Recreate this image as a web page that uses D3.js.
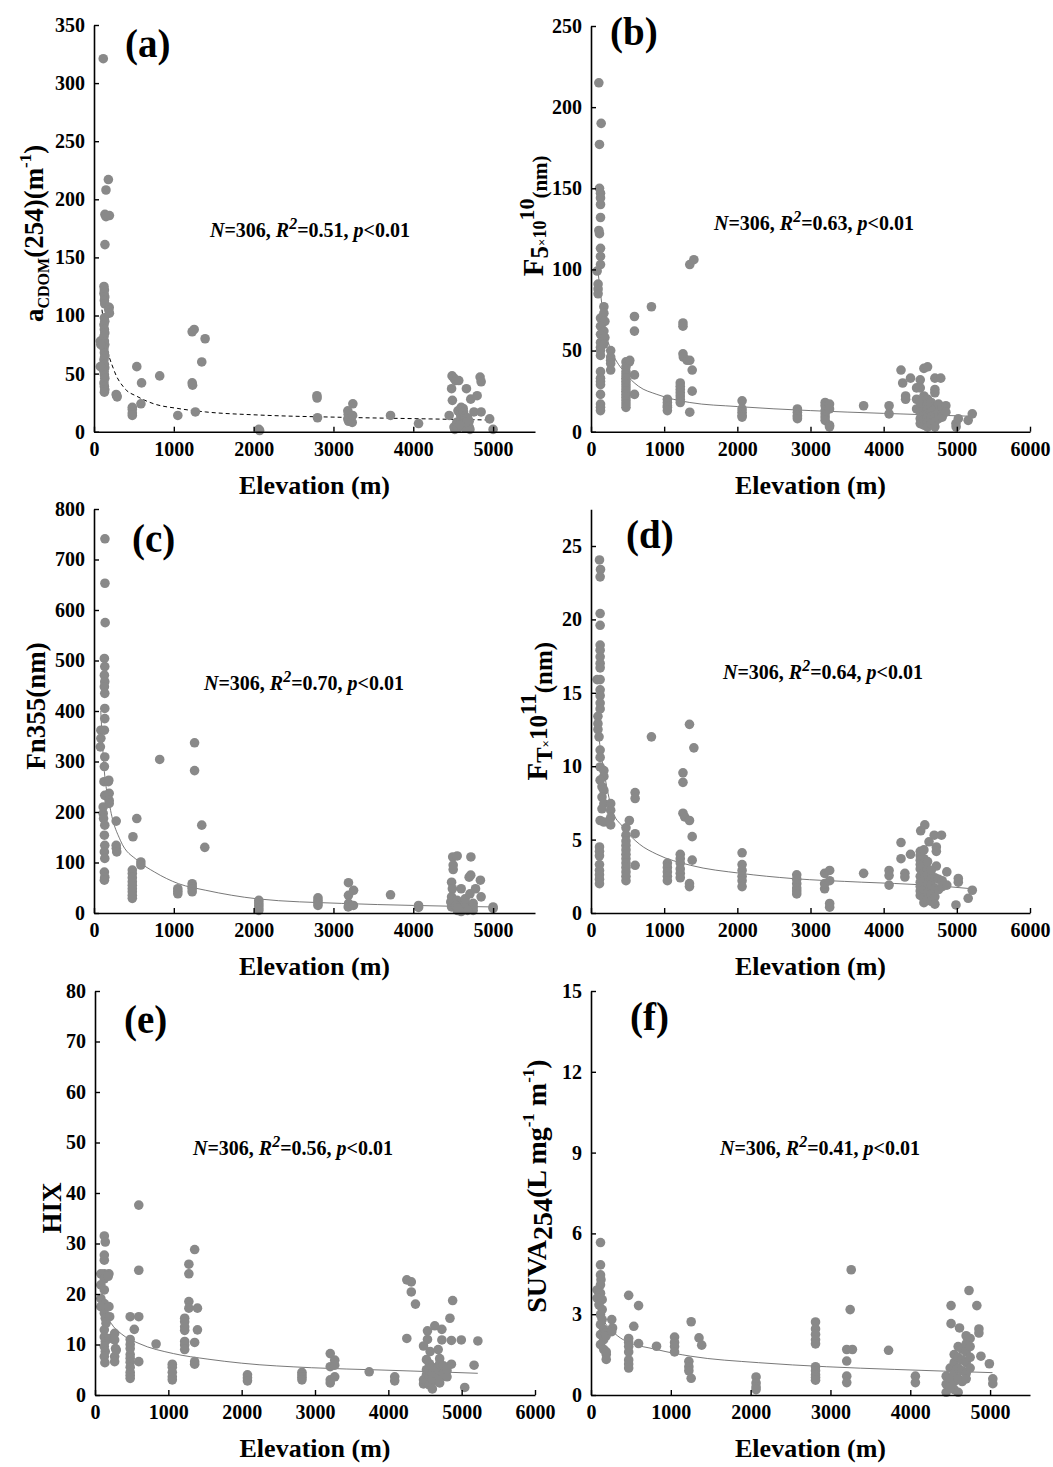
<!DOCTYPE html>
<html><head><meta charset="utf-8">
<script src="https://cdn.jsdelivr.net/npm/d3@7/dist/d3.min.js"></script>
<style>
body{margin:0;background:#fff}
svg text{font-family:"Liberation Serif","Times New Roman",serif;font-weight:bold;fill:#000}
</style></head>
<body><svg id="chart" width="1053" height="1467"></svg>
<script>
// ---------------- DATA (elevation m, value) ----------------
const elevTicks5 = [0,1000,2000,3000,4000,5000];
const elevTicks6 = [0,1000,2000,3000,4000,5000,6000];
const ticksA = [0,50,100,150,200,250,300,350];
const ticksB = [0,50,100,150,200,250];
const ticksC = [0,100,200,300,400,500,600,700,800];
const ticksD = [0,5,10,15,20,25];
const ticksE = [0,10,20,30,40,50,60,70,80];
const ticksF = [0,3,6,9,12,15];

const pointsA = [[116,321],[180,217],[150,208],[137,187],[193,186],[150,185],[137,161],
[125,125],[130,122],[125,119],[135,116],[130,113],[135,110],[190,107],[185,105],[193,102],[130,98],[135,95],[125,92],[130,88],[135,85],[125,82],[130,78],[135,75],[125,72],[130,68],[135,65],[125,62],[130,58],[135,55],[125,52],[130,49],[135,46],[125,42],[130,39],[135,36],[130,34],
[80,78],[85,75],[80,56],[278,32],[290,30],[285,31],
[480,21],[480,19],[480,16],[480,14],[536,56],[596,42],[588,24],[823,48],[1050,14],
[1230,86],[1255,88],[1230,42],[1235,40],[1270,17],[1392,80],[1350,60],
[2065,2],[2075,1],[2793,31],[2795,29],[2800,12],[3180,18],[3185,15],[3180,11],[3190,9],[3243,24],[3235,8],[3240,14],[3715,14],[4066,7],
[4486,48],[4510,46],[4530,44],[4480,37],[4490,27],[4450,14],[4510,4],[4520,2],[4550,5],[4555,3],[4545,8],[4560,18],[4600,21],[4605,19],[4600,16],[4595,14],[4600,12],[4610,10],[4620,15],[4625,20],[4630,17],[4640,13],[4645,11],[4640,6],[4650,3],[4666,37],[4720,28],[4800,31],[4700,4],[4710,2],[4700,9],[4760,17],[4850,17],[4837,47],[4850,43],[4957,11],[5000,2],[4680,12],[4570,44],[4660,8],[4580,6]];

const pointsB = [[107,215],[139,190],[116,177],[116,150],[130,147],[130,144],[130,140],[130,132],[107,124],[116,122],[130,113],[130,108],[130,103],[84,99],[97,91],[97,88],[97,85],[176,77],[176,73],[130,70],[190,68],[130,65],[176,62],[130,60],[190,58],[130,55],[176,54],[130,52],[130,50],[130,47],[130,37],[130,33],[130,31],[130,29],[130,23],[130,17],[130,15],[130,13],
[269,50],[269,46],[269,44],[269,42],[269,38],
[478,43],[478,40],[478,37],[478,35],[478,33],[478,31],[478,29],[478,27],[478,25],[478,23],[478,21],[478,19],[478,17],[478,15],[524,43],[530,44],
[594,71],[594,62],[594,35],[594,23],[826,77],
[1044,20],[1044,18],[1044,16],[1044,15],[1044,13],
[1220,30],[1220,28],[1220,26],[1220,24],[1220,22],[1220,20],[1220,18],[1257,67],[1257,65],[1257,48],[1262,46],[1313,44],
[1350,103],[1406,106],[1350,44],[1383,38],[1383,25],[1350,12],
[2065,19],[2065,14],[2065,12],[2065,10],[2065,9],
[2821,14],[2821,12],[2821,10],[2821,9],[2821,8],
[3200,18],[3200,16],[3200,13],[3200,11],[3200,9],[3200,7],[3260,17],[3260,14],[3260,4],[3260,3],
[3726,16],[4074,16],[4074,11],[4237,38],[4260,30],[4300,22],[4300,20],[4367,33],
[4450,27],[4450,20],[4450,14],[4500,32],[4500,27],[4500,18],[4500,12],[4500,8],[4500,5],[4550,39],[4550,22],[4550,16],[4550,13],[4550,10],[4550,7],[4550,4],[4600,40],[4600,20],[4600,17],[4600,14],[4600,11],[4600,9],[4600,6],[4600,3],[4650,18],[4650,15],[4650,12],[4650,9],[4650,7],[4650,5],[4700,33],[4700,26],[4700,24],[4700,14],[4700,10],[4700,6],[4700,3],[4750,17],[4750,12],[4750,8],[4780,33],[4800,15],[4800,11],[4800,9],[4850,16],[4850,12],
[4988,5],[4990,3],[5020,8],[5155,7],[5211,11]];

const pointsC = [[137,741],[137,653],[140,575],[130,504],[135,488],[130,471],[135,458],[130,448],[135,435],[135,405],[135,385],[86,362],[86,346],[80,329],[130,362],[135,309],[130,290],[125,260],[180,260],[185,263],[135,233],[190,237],[190,223],[190,217],[115,210],[115,197],[120,187],[135,174],[130,154],[135,134],[130,121],[135,108],[130,81],[135,71],[130,65],
[278,182],[278,134],[280,128],[285,121],[488,151],[536,187],
[480,85],[480,78],[480,70],[480,62],[480,55],[480,48],[480,42],[480,35],[480,29],[587,101],[587,95],[823,304],
[1050,48],[1050,43],[1050,38],[1230,58],[1230,52],[1230,48],[1230,42],[1260,337],[1260,282],[1350,174],[1388,130],
[2065,25],[2065,20],[2065,15],[2065,10],[2065,5],[2806,30],[2806,25],[2806,20],[2806,15],
[3188,60],[3188,35],[3190,19],[3185,12],[3252,45],[3250,15],[3715,36],[4066,15],[4066,11],
[4494,111],[4500,95],[4500,86],[4550,113],[4480,61],[4490,48],[4480,32],[4470,22],[4480,12],[4550,5],[4550,25],[4600,19],[4600,48],[4600,15],[4600,8],[4600,3],[4650,22],[4650,12],[4650,28],[4722,111],[4700,71],[4720,75],[4710,38],[4750,19],[4750,12],[4750,5],[4780,48],[4841,65],[4850,32],[5000,12],[5000,9],[4530,15],[4560,10],[4680,5]];

const pointsD = [[116,24.05],[130,23.4],[125,22.9],[125,20.4],[125,19.6],[125,18.25],[125,17.9],[125,17.45],[125,17],[125,16.7],[84,15.9],[125,15.9],[125,15.2],[125,14.8],[125,14.3],[125,13.9],[95,13.4],[95,12.9],[95,12.5],[110,12],[125,11.1],[125,10.6],[125,9.95],[176,9.7],[176,9.3],[125,9.05],[150,8.6],[176,8.35],[150,7.9],[176,7.45],[150,7.1],[125,6.3],[176,6.2],[116,4.5],[116,4.2],[116,3.9],[116,3.3],[116,2.9],[116,2.6],[116,2.3],[116,2.0],
[269,7.45],[269,7],[269,6.5],[269,6],
[478,5.8],[478,5.3],[478,4.9],[478,4.6],[478,4.3],[478,4.0],[478,3.7],[478,3.4],[478,3.1],[478,2.8],[478,2.5],[478,2.2],[524,6.3],
[603,8.2],[603,7.8],[603,5.4],[603,3.25],[826,12],
[1044,3.4],[1044,3.1],[1044,2.8],[1044,2.5],[1044,2.2],
[1220,4.0],[1220,3.7],[1220,3.4],[1220,3.0],[1220,2.7],[1220,2.4],[1257,9.55],[1257,8.9],[1257,6.8],[1280,6.55],
[1346,12.85],[1406,11.25],[1346,6.3],[1346,1.8],[1346,2.0],[1383,5.2],[1383,3.6],
[2065,4.1],[2065,3.3],[2065,2.9],[2065,2.5],[2065,2.2],[2065,1.8],
[2812,2.6],[2812,2.3],[2812,2.0],[2812,1.7],[2812,1.5],[2812,1.3],
[3193,1.65],[3193,2.7],[3193,2.0],[3262,2.9],[3262,2.2],[3262,0.65],[3262,0.4],
[3726,2.7],[4074,2.9],[4074,2.55],[4074,1.9],[4237,4.8],[4237,3.7],[4290,2.7],[4290,2.45],[4367,4.0],
[4506,5.6],[4562,6],[4620,4.85],[4691,5.3],[4790,5.3],[4720,4.5],[4720,4.2],[4720,3.2],
[4500,4.2],[4500,3.9],[4500,3.6],[4500,3.3],[4500,3.0],[4500,2.5],[4500,2.1],[4500,1.8],[4500,1.5],[4500,1.2],
[4550,4.3],[4550,3.7],[4550,3.4],[4550,2.8],[4550,2.2],[4550,1.6],[4550,1.0],[4550,0.7],
[4600,3.5],[4600,3.0],[4600,2.6],[4600,2.0],[4600,1.4],[4600,0.9],
[4650,2.9],[4650,2.3],[4650,1.9],[4650,1.3],[4650,0.8],
[4700,2.4],[4700,1.7],[4700,1.1],[4700,0.6],[4750,2.3],[4750,1.6],[4800,2.2],[4800,1.8],[4863,2.8],[4863,1.9],
[4988,0.55],[5020,2.35],[5020,2.1],[5155,1.0],[5211,1.55]];

const pointsE = [[127,31.5],[140,30.3],[127,27.7],[127,26.7],[127,24],[80,24],[127,23],[80,21.8],[127,20.8],[80,19.1],[127,18.1],[80,17.5],[127,16.2],[140,15.2],[150,14.2],[127,12.9],[127,11.5],[140,10.6],[127,9.6],[140,8.6],[127,7.6],[135,6.4],[190,17.5],[190,24],[200,15.5],[200,11.2],[180,23.5],
[268,12.2],[268,10.9],[280,9.2],[268,7.6],[268,6.6],[290,8.9],
[480,15.5],[480,11],[480,10],[480,9.2],[480,8],[480,7.3],[480,6.5],[480,5.5],[480,4.5],[480,3.9],[480,3.3],
[536,13],[597,37.6],[597,24.7],[597,15.5],[597,6.6],[833,10.1],
[1054,6.1],[1054,5.5],[1054,4.5],[1054,3.6],[1054,3],
[1223,15.2],[1223,14.5],[1223,13.5],[1223,12.8],[1223,10.6],[1223,9.9],[1223,9],[1280,25.9],[1280,24],[1280,18.5],[1280,17.2],
[1359,28.8],[1359,10.4],[1359,6.6],[1359,6.1],[1397,17.2],[1397,12.9],
[2079,4],[2079,3.4],[2079,2.8],[2822,4.5],[2822,4],[2822,3.5],[2822,3],
[3208,8.2],[3208,5.6],[3208,3],[3208,2.4],[3269,6.9],[3269,5.9],[3269,3.6],
[3739,4.6],[4087,3.6],[4087,2.8],
[4252,22.8],[4313,22.4],[4313,20.4],[4370,18],[4252,11.2],
[4534,12.7],[4534,11],[4480,9.7],[4570,8.6],[4633,13.7],[4730,13],[4730,10.9],[4680,9],[4840,15.2],[4877,18.7],[4860,10.8],[4860,6.1],
[4480,3],[4480,2.2],[4520,7],[4520,5],[4520,4],[4520,3.3],[4520,2.6],[4560,6.2],[4560,4.8],[4560,3.6],[4560,2.0],[4600,5.5],[4600,4.2],[4600,3.1],[4600,1.2],[4650,5.1],[4650,4],[4650,2.8],[4700,7.2],[4700,6.2],[4700,4.5],[4700,3.3],[4700,2.4],[4750,5.8],[4750,4.2],[4800,4.8],[4800,3.6],
[4995,10.9],[5042,1.5],[5169,5.9],[5221,10.7]];

const pointsF = [[119,5.66],[119,4.83],[119,4.46],[125,4.28],[119,4.09],[77,3.9],[119,3.78],[77,3.6],[140,3.54],[100,3.35],[140,3.17],[119,2.98],[140,2.8],[119,2.61],[160,2.43],[119,2.24],[160,2.06],[119,1.87],[160,1.69],[191,1.5],[191,1.32],[191,1.6],[175,2.3],[190,2.2],
[260,2.8],[270,2.49],[260,2.35],
[472,3.7],[472,2.1],[472,1.95],[472,1.8],[472,1.6],[472,1.3],[472,1.15],[472,1.0],
[536,2.55],[596,3.32],[596,1.91],[821,1.81],
[1047,2.15],[1047,1.95],[1047,1.8],[1047,1.6],[1226,1.25],[1226,1.05],[1226,0.9],[1255,2.72],[1255,0.62],[1353,2.12],[1387,1.85],
[2068,0.67],[2068,0.45],[2068,0.3],[2068,0.2],
[2813,2.71],[2813,2.45],[2813,2.25],[2813,2.05],[2813,1.9],[2813,1.05],[2813,0.9],[2813,0.75],[2813,0.65],[2813,0.55],
[3204,1.69],[3204,1.26],[3204,0.7],[3204,0.46],[3247,3.17],[3260,4.65],[3275,1.69],
[3728,1.66],[4064,0.7],[4064,0.46],
[4511,3.32],[4511,2.65],[4617,2.49],[4736,3.88],[4834,3.32],[4860,2.45],[4860,2.3],[4885,1.44],[4991,1.16],[5034,0.6],[5034,0.42],
[4450,0.7],[4450,0.4],[4450,0.1],[4500,1.0],[4500,0.6],[4500,0.3],[4550,1.5],[4550,1.2],[4550,0.8],[4550,0.5],[4550,0.2],
[4600,1.8],[4600,1.4],[4600,1.0],[4600,0.6],[4600,0.1],[4650,1.7],[4650,1.3],[4650,0.9],[4650,0.5],
[4700,2.2],[4700,1.9],[4700,1.6],[4700,1.2],[4700,0.8],[4700,0.6],[4750,2.1],[4750,1.8],[4750,1.4],[4750,1.0]];

// fitted curves
const fitA = [[100,105],[150,78],[250,53],[375,38],[550,30],[750,24],[1050,20],[1400,17],[2050,14.4],[3100,12.4],[4200,11],[5000,10]];
const fitB = [[100,97],[150,78],[200,62],[300,48],[450,37],[650,28],[900,23],[1350,18],[2000,15.5],[3000,13],[4000,11.3],[5200,9.5]];
const fitC = [[85,400],[120,300],[200,210],[330,144],[545,104],[760,81],[1060,58],[1400,45],[2050,28],[3100,19],[4000,15],[5000,12]];
const fitD = [[85,13],[120,11.5],[200,9],[290,7],[430,5.9],[660,4.7],[900,4],[1360,3.25],[2050,2.7],[2750,2.35],[3700,2.1],[4600,1.9],[5210,1.65]];
const fitE = [[80,20.1],[130,16.8],[220,14.2],[360,12.1],[600,10.2],[1070,8.2],[1540,7.1],[2000,6.3],[2950,5.4],[3900,4.95],[4830,4.5],[5220,4.3]];
const fitF = [[77,3.66],[140,2.92],[270,2.37],[400,2.06],[820,1.69],[1250,1.44],[2100,1.2],[2950,1.05],[3800,0.95],[5030,0.83]];

const statsText = ["0.51","0.63","0.70","0.64","0.56","0.41"];
const panelLetters = ["(a)","(b)","(c)","(d)","(e)","(f)"];

// ---------------- LAYOUT ----------------
const svg = d3.select("#chart");
const L = {left:94, right:535}, R = {left:591, right:1030};
const panels = [
 {pts:pointsA, fit:fitA, dash:true, x:L, top:25, bottom:431.7, xMax:5525, xt:elevTicks5, yMax:350, yt:ticksA,
  title:[["a",27,0],["CDOM",16,6],["(254)(m",27,0],["-1",17,-12],[")",27,0]], tx:43, ty:5,
  stat:{x:310,y:237}, lab:{x:125,y:57}},
 {pts:pointsB, fit:fitB, x:R, top:26, bottom:431.7, xMax:6000, xt:elevTicks6, yMax:250, yt:ticksB,
  title:[["F",29,0],["5",25,5],["\u00d7",13,3],["10",18,3],["10",22,-9],["(nm)",21,4]], tx:543, ty:-13,
  stat:{x:814,y:230}, lab:{x:610,y:45}},
 {pts:pointsC, fit:fitC, x:L, top:509, bottom:913, xMax:5525, xt:elevTicks5, yMax:800, yt:ticksC,
  title:[["Fn355(nm)",27,0]], tx:45, ty:-5,
  stat:{x:304,y:690}, lab:{x:132,y:552}},
 {pts:pointsD, fit:fitD, x:R, top:509.3, bottom:913, xMax:6000, xt:elevTicks6, yMax:27.5, yt:ticksD,
  title:[["F",29,0],["T",23,5],["\u00d7",13,3],["10",25,0],["11",23,-11],["(nm)",25,5]], tx:547, ty:0,
  stat:{x:823,y:679}, lab:{x:626,y:548}},
 {pts:pointsE, fit:fitE, x:{left:95,right:535}, top:991, bottom:1395, xMax:6000, xt:elevTicks6, yMax:80, yt:ticksE,
  title:[["HIX",27,0]], tx:61, ty:15,
  stat:{x:293,y:1155}, lab:{x:124,y:1033}},
 {pts:pointsF, fit:fitF, x:R, top:991, bottom:1395, xMax:5500, xt:elevTicks5, yMax:15, yt:ticksF,
  title:[["SUVA",28,0],["254",28,6],["(L mg",28,0],["-1",17,-12],[" m",28,0],["-1",17,-12],[")",28,0]], tx:546, ty:-7,
  stat:{x:820,y:1155}, lab:{x:630,y:1030}}
];

function richText(sel, segs){
  let prev = 0;
  segs.forEach(([t,size,shift])=>{
    sel.append("tspan").attr("font-size",size).attr("dy",shift-prev).text(t);
    prev = shift;
  });
}

panels.forEach((p,i)=>{
  const x = d3.scaleLinear().domain([0,p.xMax]).range([p.x.left,p.x.right]);
  const y = d3.scaleLinear().domain([0,p.yMax]).range([p.bottom,p.top]);
  const g = svg.append("g");

  // fit curve
  const line = d3.line().x(d=>x(d[0])).y(d=>y(d[1])).curve(d3.curveMonotoneX);
  g.append("path").datum(p.fit).attr("d",line).attr("fill","none")
    .attr("stroke", p.dash ? "#000" : "#555").attr("stroke-width", p.dash?1:0.8)
    .attr("stroke-dasharray", p.dash ? "4,3" : null);

  // points
  g.append("g").selectAll("circle").data(p.pts).join("circle")
    .attr("cx",d=>x(d[0])).attr("cy",d=>y(d[1])).attr("r",4.8).attr("fill","#898989");

  // axes
  const ax = g.append("g").attr("transform",`translate(0,${p.bottom})`)
    .call(d3.axisBottom(x).tickValues(p.xt).tickFormat(d3.format("d")).tickSizeInner(-5).tickSizeOuter(0).tickPadding(10));
  const ay = g.append("g").attr("transform",`translate(${p.x.left},0)`)
    .call(d3.axisLeft(y).tickValues(p.yt).tickFormat(d3.format("d")).tickSizeInner(-5).tickSizeOuter(0).tickPadding(9));
  [ax,ay].forEach(a=>{
    a.attr("font-family",null);
    a.select(".domain").attr("stroke","#000").attr("stroke-width",1.6);
    a.selectAll(".tick line").attr("stroke","#000").attr("stroke-width",1.4);
    a.selectAll(".tick text").attr("font-size",20).attr("fill","#000");
  });

  // x title
  g.append("text").attr("x",(p.x.left+p.x.right)/2).attr("y",p.bottom+62)
    .attr("text-anchor","middle").attr("font-size",26).text("Elevation (m)");

  // y title
  const cy = (p.top+p.bottom)/2 + p.ty;
  const yt = g.append("text").attr("transform",`translate(${p.tx},${cy}) rotate(-90)`).attr("text-anchor","middle");
  richText(yt, p.title);

  // stats
  const st = g.append("text").attr("x",p.stat.x).attr("y",p.stat.y).attr("text-anchor","middle").attr("font-size",20);
  st.append("tspan").attr("font-style","italic").text("N");
  st.append("tspan").text("=306, ");
  st.append("tspan").attr("font-style","italic").text("R");
  st.append("tspan").attr("font-size",16).attr("dy",-8).attr("font-style","italic").text("2");
  st.append("tspan").attr("dy",8).text("="+statsText[i]+", ");
  st.append("tspan").attr("font-style","italic").text("p");
  st.append("tspan").text("<0.01");

  // panel label
  g.append("text").attr("x",p.lab.x).attr("y",p.lab.y).attr("font-size",39).text(panelLetters[i]);
});
</script></body></html>
